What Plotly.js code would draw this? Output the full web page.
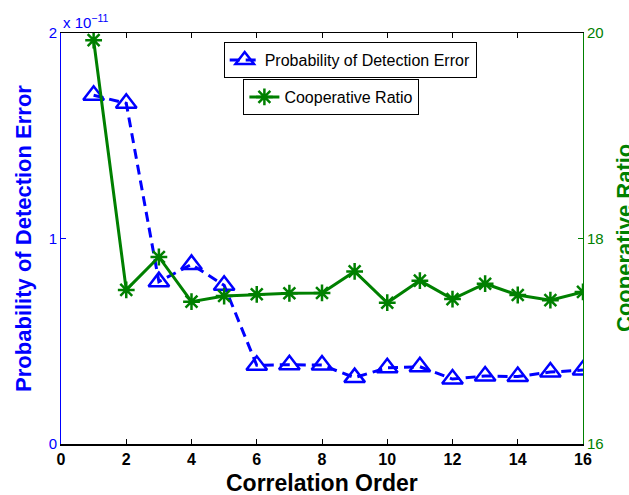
<!DOCTYPE html>
<html>
<head>
<meta charset="utf-8">
<script src="https://cdn.plot.ly/plotly-3.0.1.min.js"></script>
<style>html,body{margin:0;padding:0;background:#fff;}#chart{width:629px;height:495px;}</style>
</head>
<body>
<div id="chart"></div>
<script>
// Data
const correlationOrder = [1,2,3,4,5,6,7,8,9,10,11,12,13,14,15,16];
// Probability of detection error, in units of 1e-11
const probErrorE11 = [1.697,1.658,0.79,0.874,0.772,0.383,0.386,0.384,0.323,0.371,0.376,0.316,0.331,0.328,0.35,0.36];
const cooperativeRatio = [19.93,17.50,17.82,17.385,17.44,17.457,17.467,17.47,17.68,17.375,17.59,17.41,17.56,17.45,17.40,17.48];
const xTicks = [0,2,4,6,8,10,12,14,16];
const leftTicks = [0,1,2];
const rightTicks = [16,18,20];

const BLUE = '#0000ff';
const GREEN = '#008000';
const FONT = 'Liberation Sans, Arial, Helvetica, sans-serif';

const traces = [
  {
    x: correlationOrder, y: probErrorE11,
    name: 'Probability of Detection Error',
    type: 'scatter', mode: 'lines+markers',
    line: {color: BLUE, width: 3, dash: '10px,6px'},
    marker: {symbol: 'triangle-up-open', size: 18, color: BLUE, line: {color: BLUE, width: 2.5}},
    xaxis: 'x', yaxis: 'y', legend: 'legend'
  },
  {
    x: correlationOrder, y: cooperativeRatio,
    name: 'Cooperative Ratio',
    type: 'scatter', mode: 'lines+markers',
    line: {color: GREEN, width: 3},
    marker: {symbol: 'asterisk-open', size: 14, color: GREEN, line: {color: GREEN, width: 2.5}},
    xaxis: 'x', yaxis: 'y2', legend: 'legend2'
  }
];

const layout = {
  width: 629, height: 495,
  margin: {l: 61, r: 46, t: 33, b: 51},
  paper_bgcolor: '#fff', plot_bgcolor: '#fff',
  font: {family: FONT, size: 14, color: '#000'},
  showlegend: true,
  xaxis: {
    range: [0, 16], tickvals: xTicks, ticktext: xTicks.map(String),
    showline: true, linecolor: '#000', linewidth: 1.5, mirror: 'ticks',
    ticks: 'inside', ticklen: 5, tickcolor: '#000', tickwidth: 1,
    showgrid: false, zeroline: false,
    tickfont: {family: FONT, size: 16, color: '#000', weight: 'bold'}
  },
  yaxis: {
    range: [0, 2], tickvals: leftTicks, ticktext: leftTicks.map(String),
    showline: true, linecolor: BLUE, linewidth: 1,
    ticks: 'inside', ticklen: 5, tickcolor: BLUE,
    showgrid: false, zeroline: false,
    tickfont: {family: FONT, size: 15, color: BLUE},
    title: {text: 'Probability of Detection Error', font: {family: FONT, size: 22, color: BLUE, weight: 'bold'}, standoff: 10}
  },
  yaxis2: {
    range: [16, 20], tickvals: rightTicks, ticktext: rightTicks.map(String),
    overlaying: 'y', side: 'right', anchor: 'x',
    showline: true, linecolor: GREEN, linewidth: 1,
    ticks: 'inside', ticklen: 5, tickcolor: GREEN,
    showgrid: false, zeroline: false,
    tickfont: {family: FONT, size: 15, color: GREEN}
  },
  legend: {
    x: 0.554, y: 0.978, xanchor: 'center', yanchor: 'top',
    bgcolor: '#fff', bordercolor: '#000', borderwidth: 1,
    font: {family: FONT, size: 16, color: '#000'}
  },
  legend2: {
    x: 0.518, y: 0.888, xanchor: 'center', yanchor: 'top',
    bgcolor: '#fff', bordercolor: '#000', borderwidth: 1,
    font: {family: FONT, size: 16, color: '#000'}
  },
  annotations: [
    {
      xref: 'paper', yref: 'paper', x: 0, y: 1, xanchor: 'left', yanchor: 'bottom',
      text: 'x 10<sup>\u221211</sup>', showarrow: false,
      font: {family: FONT, size: 15, color: BLUE}
    },
    {
      xref: 'paper', yref: 'paper', x: 0.5, y: 0, xanchor: 'center', yanchor: 'top', yshift: -24,
      text: 'Correlation Order', showarrow: false,
      font: {family: FONT, size: 23, color: '#000', weight: 'bold'}
    },
    {
      xref: 'paper', yref: 'paper', x: 1, y: 0.5, xanchor: 'left', yanchor: 'middle', xshift: 27,
      textangle: -90,
      text: 'Cooperative Ratio', showarrow: false,
      font: {family: FONT, size: 22, color: GREEN, weight: 'bold'}
    }
  ]
};

Plotly.newPlot('chart', traces, layout, {displayModeBar: false, staticPlot: true});
</script>
</body>
</html>
